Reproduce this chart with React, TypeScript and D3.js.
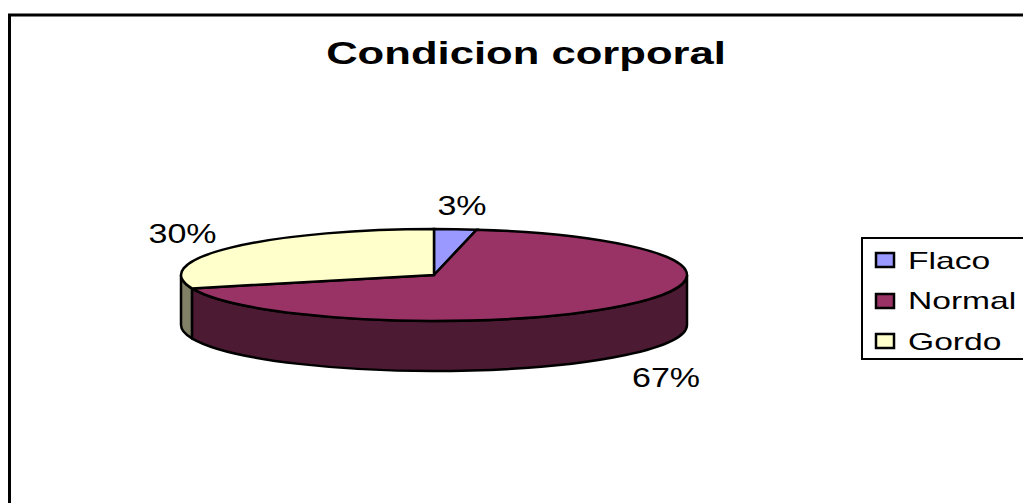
import React from "react";
import * as d3 from "d3";

const categories = ["Flaco", "Normal", "Gordo"];
const values = [2.7, 67.6, 29.7];
const labels = ["3%", "67%", "30%"];
const topColors = ["#9999ff", "#993366", "#ffffcc"];
const sideColors = ["#4d4d80", "#4d1a33", "#808066"];
const titleText = "Condicion corporal";

const W = 1023, H = 503;
const cx = 434, cy = 275, rx = 253, ry = 46, depth = 50;
const font = "'Liberation Sans', Arial, sans-serif";

const px = d3.scaleLinear().domain([-1, 1]).range([cx - rx, cx + rx]);
const py = d3.scaleLinear().domain([-1, 1]).range([cy - ry, cy + ry]);
const X = (a: number) => px(Math.sin(a));
const Y = (a: number) => py(-Math.cos(a));

function arcTo(a0: number, a1: number, dy = 0) {
  const large = a1 - a0 > Math.PI ? 1 : 0;
  return `A${rx},${ry} 0 ${large} 1 ${X(a1)},${Y(a1) + dy}`;
}

function topPath(a0: number, a1: number) {
  return `M${cx},${cy}L${X(a0)},${Y(a0)}${arcTo(a0, a1)}Z`;
}

function sidePath(a0: number, a1: number) {
  const s = Math.max(a0, Math.PI / 2);
  const e = Math.min(a1, (3 * Math.PI) / 2);
  if (e <= s) return null;
  return `M${X(s)},${Y(s)}${arcTo(s, e)}L${X(e)},${Y(e) + depth}` +
    `A${rx},${ry} 0 ${e - s > Math.PI ? 1 : 0} 0 ${X(s)},${Y(s) + depth}Z`;
}

const arcs = d3.pie<number>().sort(null)(values);

const labelPos = [
  { x: 462, y: 215 },
  { x: 666, y: 387 },
  { x: 182.5, y: 243 },
];
const swatchTops = [253, 294, 334];
const legendBaselines = [269, 309, 350];

function Stretched({ x, y, size, sx, weight, children }: any) {
  return (
    <text
      transform={`translate(${x},${y}) scale(${sx},1)`}
      textAnchor="middle"
      fontFamily={font}
      fontSize={size}
      fontWeight={weight}
      fill="#000"
    >
      {children}
    </text>
  );
}

export default function App() {
  return (
    <svg
      width={W}
      height={H}
      viewBox={`0 0 ${W} ${H}`}
      style={{ position: "absolute", left: 0, top: 0, display: "block", background: "#fff" }}
    >
      <path d={`M9.5,${H}V15H${W}`} fill="none" stroke="#000" strokeWidth={3} />
      <Stretched x={526} y={64} size={31} sx={1.407} weight="bold">{titleText}</Stretched>
      {arcs.map((a, i) => {
        const d = sidePath(a.startAngle, a.endAngle);
        return d ? <path key={i} d={d} fill={sideColors[i]} stroke="#000" strokeWidth={2.5} /> : null;
      })}
      {arcs.map((a, i) => (
        <path key={i} d={topPath(a.startAngle, a.endAngle)} fill={topColors[i]} stroke="#000" strokeWidth={2.5} />
      ))}
      {labels.map((l, i) => (
        <Stretched key={l} x={labelPos[i].x} y={labelPos[i].y} size={27} sx={1.26}>{l}</Stretched>
      ))}
      <rect x={862} y={238} width={W} height={121} fill="#fff" stroke="#000" strokeWidth={2} />
      {categories.map((c, i) => (
        <g key={c}>
          <rect x={876} y={swatchTops[i]} width={18} height={14} fill={topColors[i]} stroke="#000" strokeWidth={2.5} />
          <text
            transform={`translate(908,${legendBaselines[i]}) scale(1.4,1)`}
            fontFamily={font}
            fontSize={24}
            fill="#000"
          >
            {c}
          </text>
        </g>
      ))}
    </svg>
  );
}
